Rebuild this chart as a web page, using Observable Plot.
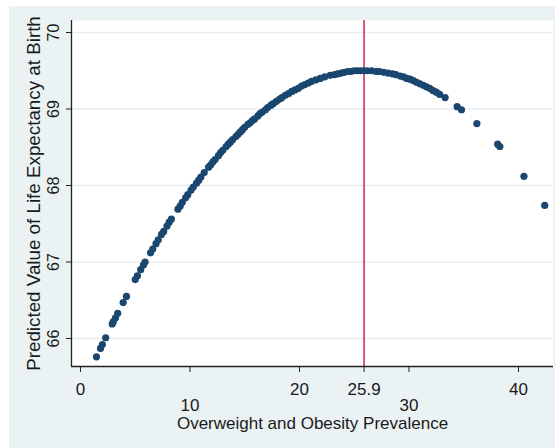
<!DOCTYPE html>
<html><head><meta charset="utf-8">
<script src="https://cdn.jsdelivr.net/npm/d3@7"></script>
<script src="https://cdn.jsdelivr.net/npm/@observablehq/plot@0.6"></script>
<style>
html,body{margin:0;padding:0;background:#fff;}
#chart{position:absolute;left:9px;top:6px;width:546px;height:442px;background:#eaf2f3;}
#chart svg{display:block;}
</style></head><body><div id="chart"></div>
<script>
const prevalence = [1.46,1.83,2.0,2.3,2.9,3.0,3.2,3.4,3.9,4.2,5.0,5.2,5.5,5.75,5.9,6.4,6.6,6.9,7.1,7.4,7.6,7.9,8.1,8.3,8.9,9.1,9.3,9.6,9.8,10.1,10.3,10.6,10.8,11.0,11.3,11.7,11.9,12.1,12.3,12.6,12.8,13.0,13.3,13.5,13.7,13.9,14.2,14.4,14.6,14.8,15.0,15.3,15.5,15.7,15.9,16.2,16.4,16.6,16.9,17.1,17.4,17.6,17.9,18.2,18.4,18.7,19.0,19.3,19.6,19.9,20.2,20.5,20.8,21.1,21.5,21.9,22.3,22.8,23.2,23.5,23.8,24.1,24.4,24.7,25.0,25.3,25.6,25.9,26.2,26.6,27.0,27.3,27.7,28.1,28.5,28.8,29.2,29.5,29.8,30.1,30.4,30.7,31.0,31.3,31.6,31.9,32.2,32.5,32.8,33.3,34.4,34.8,36.2,38.1,38.3,40.5,42.4];
const lifeExp = [65.76,65.87,65.92,66.01,66.19,66.22,66.27,66.33,66.47,66.55,66.77,66.82,66.90,66.96,67.00,67.12,67.17,67.24,67.29,67.36,67.40,67.47,67.52,67.56,67.69,67.73,67.78,67.84,67.88,67.94,67.98,68.03,68.07,68.11,68.17,68.24,68.27,68.31,68.34,68.39,68.43,68.46,68.51,68.54,68.57,68.60,68.64,68.67,68.70,68.73,68.76,68.80,68.82,68.85,68.87,68.91,68.94,68.96,68.99,69.02,69.05,69.07,69.10,69.13,69.15,69.18,69.20,69.23,69.25,69.27,69.30,69.32,69.34,69.36,69.38,69.40,69.42,69.44,69.45,69.46,69.47,69.48,69.49,69.49,69.50,69.50,69.50,69.50,69.50,69.50,69.49,69.49,69.48,69.47,69.46,69.45,69.43,69.42,69.40,69.39,69.37,69.35,69.33,69.31,69.29,69.27,69.24,69.22,69.19,69.15,69.03,68.99,68.81,68.54,68.51,68.12,67.74];
const yTicks = [66, 67, 68, 69, 70];
const xTicksUpper = [0, 20, 25.9, 40];
const xTicksLower = [10, 30];
const cutoff = [25.9];
const xDomain = [-0.82, 43.2];
const yDomain = [65.634, 70.157];
const xTitle = "Overweight and Obesity Prevalence";
const yTitle = "Predicted Value of Life Expectancy at Birth";

const data = prevalence.map((x, i) => ({x, y: lifeExp[i]}));
const font = "'Liberation Sans',Arial,sans-serif";
const fmt = d => String(d);
const chart = Plot.plot({
  width: 546, height: 442,
  marginLeft: 62, marginTop: 14, marginRight: 2, marginBottom: 82,
  style: {background: "transparent", fontFamily: font, color: "#1a1a1a", overflow: "visible"},
  x: {domain: xDomain},
  y: {domain: yDomain},
  marks: [
    Plot.frame({fill: "white", stroke: "none"}),
    Plot.gridY(yTicks, {stroke: "#e6eff0", strokeOpacity: 1, strokeWidth: 1.5}),
    Plot.ruleX(cutoff, {stroke: "#d5234a", strokeWidth: 1.5}),
    Plot.dot(data, {x: "x", y: "y", r: 3.6, fill: "#1a476f", stroke: "none"}),
    Plot.ruleX([xDomain[0]], {stroke: "#222", strokeWidth: 1.3}),
    Plot.ruleY([yDomain[0]], {stroke: "#222", strokeWidth: 1.3}),
    Plot.axisY(yTicks, {tickSize: 5, tickRotate: -90, tickPadding: 8, fontSize: 16, label: null, tickFormat: fmt, stroke: "#222"}),
    Plot.axisX(xTicksUpper, {tickSize: 6, tickPadding: 10, fontSize: 17, label: null, tickFormat: fmt, stroke: "#222"}),
    Plot.axisX(xTicksLower, {tickSize: 6, tickPadding: 26, fontSize: 17, label: null, tickFormat: fmt, stroke: "#222"}),
    Plot.text([xTitle], {frameAnchor: "bottom", dy: 57, fontSize: 17, textAnchor: "middle", lineAnchor: "middle", text: d => d}),
    Plot.text([yTitle], {frameAnchor: "left", dx: -38, rotate: -90, fontSize: 18.8, textAnchor: "middle", lineAnchor: "middle", text: d => d})
  ]
});
document.getElementById("chart").appendChild(chart);
</script></body></html>
